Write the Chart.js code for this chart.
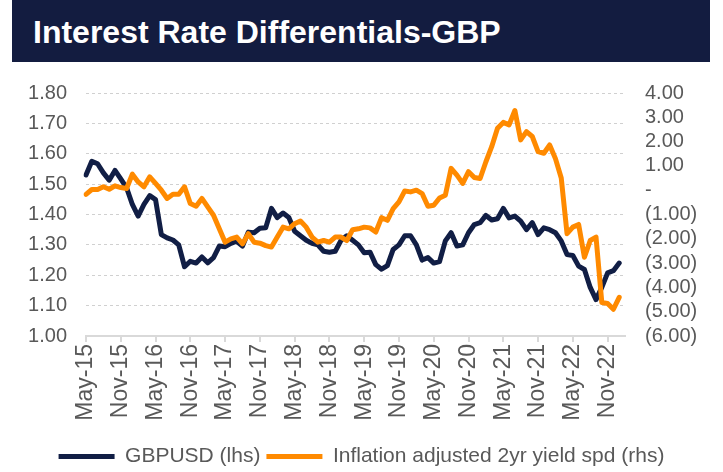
<!DOCTYPE html>
<html>
<head>
<meta charset="utf-8">
<script src="https://cdn.jsdelivr.net/npm/chart.js@4.4.1/dist/chart.umd.min.js"></script>
<style>
body{margin:0;background:#fff;}
#wrap{position:relative;width:723px;height:472px;overflow:hidden;}
#banner{position:absolute;left:12px;top:0;width:698px;height:62px;background:#131c40;color:#fff;
  font:bold 32px "Liberation Sans",Arial,sans-serif;line-height:64px;padding-left:21px;box-sizing:border-box;}
canvas{position:absolute;left:0;top:0;}
</style>
</head>
<body>
<div id="wrap">
  <canvas id="chart" width="723" height="477"></canvas>
  <div id="banner">Interest Rate Differentials-GBP</div>
</div>
<script>
// monthly observations, May-15 .. Jan-23 (axis runs one month further)
const monthNames = ["Jan","Feb","Mar","Apr","May","Jun","Jul","Aug","Sep","Oct","Nov","Dec"];
const firstMonth = 4, firstYear = 15, monthCount = 94;

const gbpusd = [
  1.53,1.575,1.567,1.537,1.513,1.545,1.517,1.488,1.433,1.395,
  1.433,1.462,1.449,1.334,1.323,1.316,1.30,1.228,1.246,1.24,
  1.26,1.241,1.258,1.296,1.294,1.305,1.312,1.296,1.342,1.34,
  1.355,1.356,1.42,1.39,1.405,1.39,1.345,1.33,1.315,1.305,
  1.30,1.279,1.276,1.279,1.315,1.33,1.315,1.30,1.274,1.276,
  1.235,1.22,1.232,1.285,1.30,1.33,1.33,1.30,1.25,1.258,
  1.24,1.245,1.313,1.34,1.296,1.30,1.34,1.367,1.373,1.397,
  1.382,1.386,1.42,1.389,1.395,1.378,1.35,1.373,1.334,1.356,
  1.35,1.34,1.313,1.268,1.265,1.23,1.219,1.16,1.12,1.16,
  1.208,1.215,1.24
];

const yieldSpread = [
  -0.17,0.03,0.03,0.14,0.04,0.18,0.11,0.07,0.66,0.34,
  0.14,0.55,0.28,0.0,-0.34,-0.17,-0.17,0.14,-0.55,-0.66,
  -0.34,-0.69,-1.03,-1.59,-2.14,-2.0,-1.93,-2.21,-1.79,-2.14,
  -2.18,-2.28,-2.34,-1.93,-1.52,-1.59,-1.38,-1.27,-1.52,-1.93,
  -2.14,-2.07,-2.14,-1.93,-1.93,-2.07,-1.63,-1.59,-1.52,-1.55,
  -1.72,-1.13,-1.24,-0.76,-0.48,-0.03,-0.07,0.0,-0.14,-0.66,
  -0.62,-0.32,-0.21,0.90,0.62,0.28,0.76,0.52,0.48,1.17,
  1.79,2.55,2.79,2.69,3.28,2.07,2.41,2.21,1.59,1.52,
  1.86,1.3,0.5,-1.79,-1.52,-1.41,-2.76,-2.07,-1.93,-4.62,
  -4.66,-4.90,-4.41
];

const leftTicks = {min:1.0, max:1.8, step:0.1};
const rightTicks = {min:-6, max:4, step:1};

let labels = [];
for(let i=0;i<monthCount;i++){
    let m = firstMonth + i;
    labels.push(monthNames[m%12] + "-" + (firstYear + Math.floor(m/12)));
}

const font = "'Liberation Sans', Arial, sans-serif";
const grey = "#595959";

function fmtRight(v){
    if(v===0) return "-";
    if(v<0) return "(" + Math.abs(v).toFixed(2) + ")";
    return v.toFixed(2);
}

const chart = new Chart(document.getElementById("chart"),{
    type:"line",
    data:{
        labels:labels,
        datasets:[{
            label:"GBPUSD (lhs)",
            data:gbpusd,
            yAxisID:"y",
            borderColor:"#111e45",
            backgroundColor:"#111e45",
            borderWidth:5,
            pointRadius:0,
            borderJoinStyle:"round",
            borderCapStyle:"round",
            order:1
        },{
            label:"Inflation adjusted 2yr yield spd (rhs)",
            data:yieldSpread,
            yAxisID:"y2",
            borderColor:"#ff8a00",
            backgroundColor:"#ff8a00",
            borderWidth:5,
            pointRadius:0,
            borderJoinStyle:"round",
            borderCapStyle:"round",
            order:0
        }]
    },
    options:{
        responsive:false,
        animation:false,
        devicePixelRatio:1,
        layout:{padding:{top:93,left:0,right:0,bottom:0}},
        plugins:{
            tooltip:{enabled:false},
            legend:{
                position:"bottom",
                labels:{
                    usePointStyle:true,
                    pointStyle:"line",
                    pointStyleWidth:56,
                    color:grey,
                    font:{family:font,size:21},
                    padding:6,
                    sort:(a,b)=>a.datasetIndex-b.datasetIndex
                }
            }
        },
        scales:{
            x:{
                grid:{drawOnChartArea:false,drawTicks:true,tickLength:6,color:"#d9d9d9",lineWidth:2},
                border:{color:"#d9d9d9",width:2},
                ticks:{
                    autoSkip:false,
                    minRotation:90,
                    maxRotation:90,
                    padding:2,
                    color:grey,
                    font:{family:font,size:23},
                    callback:function(v,i){ return i%6===0 ? this.getLabelForValue(v) : null; }
                },
                afterFit:s=>{ s.height = 104; }
            },
            y:{
                position:"left",
                min:leftTicks.min,
                max:leftTicks.max,
                grid:{drawTicks:false,color:"#d0d0d0",lineWidth:1},
                border:{display:false,dash:[3,3]},
                ticks:{
                    stepSize:leftTicks.step,
                    padding:19,
                    color:grey,
                    font:{family:font,size:20},
                    callback:v=>v.toFixed(2)
                },
                afterFit:s=>{ s.width = 86; }
            },
            y2:{
                position:"right",
                min:rightTicks.min,
                max:rightTicks.max,
                grid:{display:false,drawTicks:false},
                border:{display:false},
                ticks:{
                    autoSkip:false,
                    stepSize:rightTicks.step,
                    padding:20,
                    color:grey,
                    font:{family:font,size:20},
                    callback:v=>fmtRight(v)
                },
                afterFit:s=>{ s.width = 98; }
            }
        }
    }
});
</script>
</body>
</html>
